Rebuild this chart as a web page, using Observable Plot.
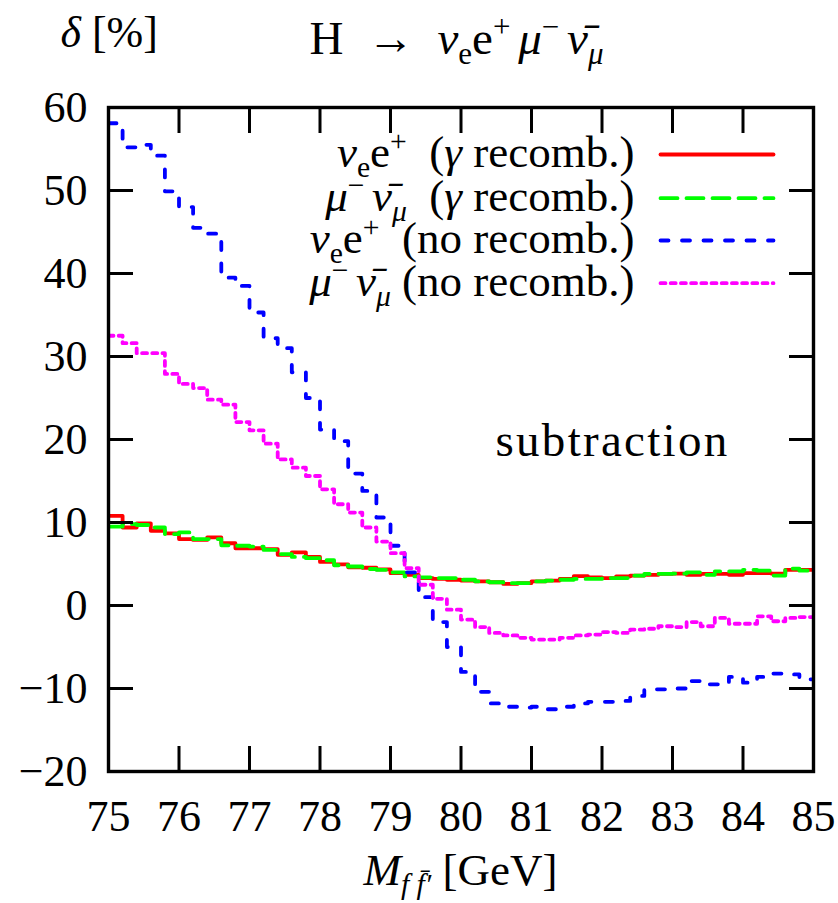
<!DOCTYPE html>
<html><head><meta charset="utf-8">
<script src="https://cdn.jsdelivr.net/npm/d3@7"></script>
<script src="https://cdn.jsdelivr.net/npm/@observablehq/plot@0.6"></script>
<style>
body{margin:0;background:#fff}
svg, svg text, svg tspan {font-family:"Liberation Serif","Times New Roman",serif !important}
</style>
</head><body><div id="chart"></div>
<script>
// ---- data: lower edges of the 0.2 GeV bins ----
const binStart = [75.0,75.2,75.4,75.6,75.8,76.0,76.2,76.4,76.6,76.8,
                  77.0,77.2,77.4,77.6,77.8,78.0,78.2,78.4,78.6,78.8,
                  79.0,79.2,79.4,79.6,79.8,80.0,80.2,80.4,80.6,80.8,
                  81.0,81.2,81.4,81.6,81.8,82.0,82.2,82.4,82.6,82.8,
                  83.0,83.2,83.4,83.6,83.8,84.0,84.2,84.4,84.6,84.8];
const binEnd = 85.0;

// nu_e e+ (gamma recomb.)
const nueGamma = [10.8,9.4,9.9,9.0,8.7,8.0,7.9,8.2,7.5,6.9,
                  6.9,6.8,6.1,6.4,5.85,5.25,4.95,4.6,4.55,4.35,
                  3.9,3.7,3.3,3.2,3.1,3.0,2.9,2.8,2.6,2.7,
                  2.9,3.0,3.2,3.55,3.4,3.3,3.5,3.6,3.7,3.8,
                  3.85,3.7,3.8,3.8,3.7,3.9,3.9,3.85,4.3,4.3];
// mu- nubar_mu (gamma recomb.)
const munuGamma = [9.5,9.8,9.7,9.4,8.6,8.8,8.0,8.0,7.25,7.2,
                   7.1,6.7,6.2,5.85,5.7,5.45,4.85,4.7,4.4,4.3,
                   4.0,3.5,3.4,3.3,3.3,3.1,2.9,2.8,2.7,2.7,
                   2.9,3.0,3.1,3.2,3.2,3.3,3.3,3.6,3.8,3.8,
                   3.85,4.0,3.7,4.1,4.1,4.3,4.2,3.6,4.45,4.2];
// nu_e e+ (no recomb.)
const nueNoRec = [58.1,55.2,55.5,54.2,49.9,48.0,45.5,44.8,39.5,38.5,
                  35.3,32.2,31.0,28.1,25.0,21.2,19.8,15.9,13.8,10.6,
                  7.2,4.0,1.0,-2.0,-5.0,-8.0,-10.4,-11.8,-12.2,-12.3,
                  -12.2,-12.5,-12.2,-11.8,-11.6,-11.6,-11.5,-10.9,-10.1,-10.1,
                  -10.0,-9.1,-9.5,-9.5,-8.6,-9.3,-8.6,-8.2,-8.3,-8.9];
// mu- nubar_mu (no recomb.)
const munuNoRec = [32.5,31.6,30.4,30.4,27.9,26.7,26.2,24.8,24.2,22.1,
                   21.1,19.5,17.6,16.6,15.6,14.0,12.2,11.2,9.4,7.7,
                   6.3,4.5,2.5,0.8,-0.5,-1.7,-2.6,-3.3,-3.6,-3.9,
                   -4.1,-4.1,-3.9,-3.6,-3.5,-3.2,-3.3,-2.9,-2.8,-2.5,
                   -2.6,-2.0,-2.5,-1.5,-2.2,-2.2,-1.3,-1.9,-1.5,-1.4];

const xTicks = [75,76,77,78,79,80,81,82,83,84,85];
const yTicks = [-20,-10,0,10,20,30,40,50,60];

const seriesColors = ["#ff0000","#00ff00","#0000ff","#ff00ff"];
const seriesDash = [null,"17,9","8,13.5","5,5.2"];
const seriesValues = [nueGamma, munuGamma, nueNoRec, munuNoRec];

// rich text specs (it = italic, sub/sup)
const legendParts = [
  [{t:"ν",it:1},{t:"e",sub:1},{t:"e"},{t:"+",sup:1},{t:"  ("},{t:"γ",it:1},{t:" recomb.)"}],
  [{t:"μ",it:1},{t:"− ",sup:1},{t:"ν̄",it:1},{t:"μ",sub:1,it:1},{t:"  ("},{t:"γ",it:1},{t:" recomb.)"}],
  [{t:"ν",it:1},{t:"e",sub:1},{t:"e"},{t:"+",sup:1},{t:"  (no recomb.)"}],
  [{t:"μ",it:1},{t:"− ",sup:1},{t:"ν̄",it:1},{t:"μ",sub:1,it:1},{t:" (no recomb.)"}]
];
const titleParts = [{t:"H  →  "},{t:"ν",it:1},{t:"e",sub:1},{t:"e"},{t:"+ ",sup:1},{t:"μ",it:1},{t:"− ",sup:1},{t:"ν̄",it:1},{t:"μ",sub:1,it:1}];
const yLabelParts = [{t:"δ",it:1},{t:" [%]"}];
const xLabelParts = [{t:"M",it:1},{t:"f f̄′",sub:1,it:1},{t:" [GeV]"}];
const annotation = "subtraction";

const plain = parts => parts.map(p => p.t).join("");

// ---- layout ----
const W = 838, H = 903, ML = 108, MR = 25, MT = 107, MB = 132;
const FS = 44;
const FF = "Liberation Serif";

function stepData(values) {
  const pts = binStart.map((x, i) => ({x, y: values[i]}));
  pts.push({x: binEnd, y: values[values.length - 1]});
  return pts;
}

const lineMarks = seriesValues.map((vals, k) => Plot.line(stepData(vals), {
  x: "x", y: "y", curve: "step-after", stroke: seriesColors[k], strokeWidth: 3.8,
  strokeDasharray: seriesDash[k] || undefined, clip: true
}));

const lineShape = {draw(ctx, l) { ctx.moveTo(0, 0); ctx.lineTo(0, -l); }};
const legendRowY = [154, 197.7, 240, 282.7];
const legendMarks = [];
legendParts.forEach((parts, k) => {
  legendMarks.push(Plot.vector([0], {
    frameAnchor: "top-left", dx: 660 - ML, dy: legendRowY[k] - MT, rotate: 90, length: 113,
    anchor: "start", shape: lineShape, stroke: seriesColors[k], strokeWidth: 3.8,
    strokeDasharray: seriesDash[k] || undefined
  }));
  legendMarks.push(Plot.text([plain(parts)], {
    frameAnchor: "top-left", dx: 634 - ML, dy: legendRowY[k] + 12.5 - MT, text: d => d,
    textAnchor: "end", lineAnchor: "bottom", fontSize: 45, fontFamily: FF
  }));
});

const chart = Plot.plot({
  width: W, height: H, marginLeft: ML, marginRight: MR, marginTop: MT, marginBottom: MB,
  style: {fontFamily: FF, fontSize: FS + "px", background: "white", color: "black"},
  x: {domain: [75, 85]},
  y: {domain: [-20, 60]},
  marks: [
    ...lineMarks,
    Plot.axisX(xTicks, {anchor: "bottom", tickSize: -25, tickFormat: () => "", strokeWidth: 3, label: null}),
    Plot.axisX(xTicks, {anchor: "top", tickSize: -25, tickFormat: () => "", strokeWidth: 3, label: null}),
    Plot.axisX(xTicks, {anchor: "bottom", tickSize: 0, tickPadding: 28, label: null, fontSize: FS, fontFamily: FF}),
    Plot.axisY(yTicks, {anchor: "left", tickSize: -25, tickFormat: () => "", strokeWidth: 3, label: null}),
    Plot.axisY(yTicks, {anchor: "right", tickSize: -25, tickFormat: () => "", strokeWidth: 3, label: null}),
    Plot.axisY(yTicks, {anchor: "left", tickSize: 0, tickPadding: 21, label: null, fontSize: FS, fontFamily: FF}),
    Plot.frame({stroke: "black", strokeWidth: 3.4}),
    ...legendMarks,
    Plot.text([annotation], {frameAnchor: "top-left", dx: 612 - ML, dy: 455 - MT, text: d => d,
      textAnchor: "middle", lineAnchor: "bottom", fontSize: 47, fontFamily: FF}),
    Plot.text([plain(titleParts)], {frameAnchor: "top-left", dx: 456 - ML, dy: 53 - MT, text: d => d,
      textAnchor: "middle", lineAnchor: "bottom", fontSize: 47, fontFamily: FF}),
    Plot.text([plain(yLabelParts)], {frameAnchor: "top-left", dx: 60 - ML, dy: 46 - MT, text: d => d,
      textAnchor: "start", lineAnchor: "bottom", fontSize: FS, fontFamily: FF}),
    Plot.text([plain(xLabelParts)], {frameAnchor: "top-left", dx: 460 - ML, dy: 884 - MT, text: d => d,
      textAnchor: "middle", lineAnchor: "bottom", fontSize: 45, fontFamily: FF})
  ]
});
document.getElementById("chart").appendChild(chart);

// ---- turn plain labels into rich text with sub/superscripts ----
const richMap = new Map();
legendParts.forEach(p => richMap.set(plain(p), p));
richMap.set(plain(titleParts), titleParts);
richMap.set(plain(yLabelParts), yLabelParts);
richMap.set(plain(xLabelParts), xLabelParts);
const NS = "http://www.w3.org/2000/svg";
d3.select(chart).selectAll("text").each(function() {
  if (this.textContent === annotation) { this.style.letterSpacing = "2.3px"; return; }
  const parts = richMap.get(this.textContent);
  if (!parts) return;
  const fs = parseFloat(this.getAttribute("font-size")) ||
             parseFloat(this.parentNode.getAttribute("font-size")) || FS;
  this.textContent = "";
  this.setAttribute("xml:space", "preserve");
  this.style.whiteSpace = "pre";
  let shift = 0;
  for (const p of parts) {
    const t = document.createElementNS(NS, "tspan");
    const target = p.sub ? 0.22 * fs : p.sup ? -0.36 * fs : 0;
    t.setAttribute("dy", (target - shift).toFixed(2));
    shift = target;
    if (p.sub || p.sup) t.setAttribute("font-size", (0.66 * fs).toFixed(1));
    if (p.it) t.setAttribute("font-style", "italic");
    t.textContent = p.t;
    this.appendChild(t);
  }
});
</script>
</body></html>
